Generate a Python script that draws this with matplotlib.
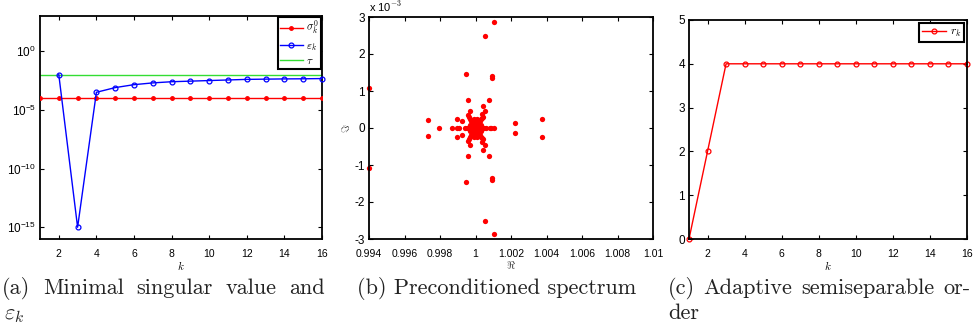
import numpy as np
import matplotlib
matplotlib.use("Agg")
import matplotlib.pyplot as plt
from matplotlib.ticker import FuncFormatter, NullLocator

plt.rcParams['font.family'] = ['Liberation Sans', 'DejaVu Sans']
plt.rcParams['mathtext.fontset'] = 'cm'

# (a) minimal singular value and eps_k
k_all = np.arange(1, 17)
sigma0 = [1e-4] * 16
k_eps = np.arange(2, 17)
eps_k = [1e-2, 1e-15, 10**-3.5, 10**-3.1, 10**-2.85, 10**-2.7, 10**-2.6, 10**-2.55,
         10**-2.5, 10**-2.45, 10**-2.4, 10**-2.38, 10**-2.36, 10**-2.35, 10**-2.33]
tau = 1e-2

# (b) preconditioned spectrum, offsets from 1 in units of 1e-3
# upper half plane points; the lower half is their conjugate
re_up = [-6.00, 1.04, 0.55, -0.52, 0.93, 0.91, -0.42, 0.74, -2.66, 2.21, 3.75,
         -1.04, -0.29, 0.55, 0.44, 0.38, -0.74,
         0.06, 0.12, 0.18, 0.24, 0.30, 0.36, 0.42,
         -0.06, -0.12, -0.18, -0.24, -0.30, -0.36, -0.42,
         0.03, 0.06, 0.09, -0.03, -0.06, -0.09,
         0.10, 0.20, 0.30, -0.10, -0.20, -0.30]
im_up = [1.07, 2.87, 2.50, 1.46, 1.40, 1.34, 0.76, 0.76, 0.22, 0.14, 0.25,
         0.25, 0.46, 0.47, 0.59, 0.39, 0.19,
         0.05, 0.09, 0.14, 0.19, 0.23, 0.27, 0.31,
         0.05, 0.10, 0.15, 0.20, 0.25, 0.30, 0.35,
         0.08, 0.16, 0.24, 0.08, 0.16, 0.23,
         0.03, 0.05, 0.08, 0.03, 0.05, 0.08]
re_real = [-2.08, -1.32, -1.02, -0.93, -0.60, -0.50, -0.40, -0.30, -0.25, -0.20,
           -0.15, -0.10, -0.05, 0.00, 0.05, 0.10, 0.15, 0.20, 0.25, 0.30, 0.40,
           0.50, 0.60, 0.82, 0.89, 1.04]

# (c) adaptive semiseparable order
r_k = [0, 2, 4, 4, 4, 4, 4, 4, 4, 4, 4, 4, 4, 4, 4, 4]

W, H = 974, 331
fig = plt.figure(figsize=(W / 100, H / 100), dpi=100)


def px_axes(l, t, r, b):
    return fig.add_axes([l / W, 1 - b / H, (r - l) / W, (b - t) / H])


def style(ax):
    ax.tick_params(direction='in', top=True, right=True, length=3, width=0.8,
                   color='black')
    ax.tick_params(axis='x', labelsize=7.5, pad=7)
    ax.tick_params(axis='y', labelsize=8.5, pad=3)
    for s in ax.spines.values():
        s.set_linewidth(1.3)


ax1 = px_axes(40, 16, 322, 239)
ax1.semilogy(k_all, [tau] * 16, color='#33dd33', lw=1.0, label=r'$\tau$', zorder=2)
ax1.semilogy(k_all, sigma0, color='red', lw=1.0, marker='.', ms=5,
             label=r'$\sigma_k^0$', zorder=3)
ax1.semilogy(k_eps, eps_k, color='blue', lw=1.0, marker='o', ms=3.5, mfc='none',
             mew=0.9, label=r'$\varepsilon_k$', zorder=4, clip_on=False)
ax1.set_xlim(1, 16)
ax1.set_ylim(1e-16, 1e3)
ax1.set_xticks(range(2, 17, 2))
ax1.set_yticks([1e-15, 1e-10, 1e-5, 1e0])
ax1.yaxis.set_minor_locator(NullLocator())
ax1.set_xlabel(r'$k$', fontsize=8, labelpad=0)
style(ax1)
h, l = ax1.get_legend_handles_labels()
leg = ax1.legend([h[1], h[2], h[0]], [l[1], l[2], l[0]], loc='upper right',
                 fontsize=8, fancybox=False, framealpha=1, edgecolor='black',
                 borderaxespad=0.05, handlelength=2.0, labelspacing=0.3,
                 borderpad=0.25, handletextpad=0.3)
leg.get_frame().set_linewidth(1.5)

ax2 = px_axes(369, 17, 653, 239)
re_all = 1 + np.concatenate([re_up, re_up, re_real]) * 1e-3
im_all = np.concatenate([im_up, -np.array(im_up), np.zeros(len(re_real))]) * 1e-3
ax2.plot(re_all, im_all, 'o', color='red', ms=3.8, mec='none', clip_on=False)
ax2.set_xlim(0.994, 1.01)
ax2.set_ylim(-3e-3, 3e-3)
ax2.set_xticks(np.arange(0.994, 1.0101, 0.002))
ax2.xaxis.set_major_formatter(FuncFormatter(lambda v, p: ('%.3f' % v).rstrip('0').rstrip('.')))
ax2.set_yticks(np.arange(-3, 4) * 1e-3)
ax2.yaxis.set_major_formatter(FuncFormatter(lambda v, p: '%d' % round(v * 1e3)))
ax2.set_xlabel(r'$\Re$', fontsize=8, labelpad=0, color='#444444')
ax2.set_ylabel(r'$\Im$', fontsize=8, labelpad=2, color='#444444')
ax2.text(0.0, 1.012, r'x 10$^{-3}$', transform=ax2.transAxes, fontsize=8,
         ha='left', va='bottom')
style(ax2)

ax3 = px_axes(689, 20, 967, 239)
ax3.plot(k_all, r_k, color='red', lw=1.0, marker='o', ms=3.5, mfc='none', mew=0.9,
         label=r'$r_k$', clip_on=False)
ax3.set_xlim(1, 16)
ax3.set_ylim(0, 5)
ax3.set_xticks(range(2, 17, 2))
ax3.set_xlabel(r'$k$', fontsize=8, labelpad=0)
style(ax3)
leg3 = ax3.legend(loc='upper right', fontsize=8.5, fancybox=False, framealpha=1,
                  edgecolor='black', borderaxespad=0.25, handlelength=2.0,
                  borderpad=0.25, handletextpad=0.3)
leg3.get_frame().set_linewidth(1.5)

# captions, justified the way LaTeX sets them
cap = dict(fontfamily='cmr10', fontsize=16, color='#222222', va='baseline', ha='left')
renderer = fig.canvas.get_renderer()


def justified(words, x0, x1, y):
    texts = [fig.text(0, 1 - y / H, w, **cap) for w in words]
    widths = [t.get_window_extent(renderer).width for t in texts]
    gap = (x1 - x0 - sum(widths)) / (len(words) - 1)
    x = x0
    for t, w in zip(texts, widths):
        t.set_x(x / W)
        x += w + gap


justified(['(a)', 'Minimal', 'singular', 'value', 'and'], 2, 325, 294)
fig.text(4 / W, 1 - 319 / H, r'$\varepsilon_k$', fontsize=16, color='#222222',
         va='baseline', ha='left')
fig.text(357 / W, 1 - 294 / H, '(b) Preconditioned spectrum', **cap)
justified(['(c)', 'Adaptive', 'semiseparable', 'or-'], 668, 970, 294)
fig.text(668 / W, 1 - 319 / H, 'der', **cap)

fig.savefig('out.png', dpi=100)
